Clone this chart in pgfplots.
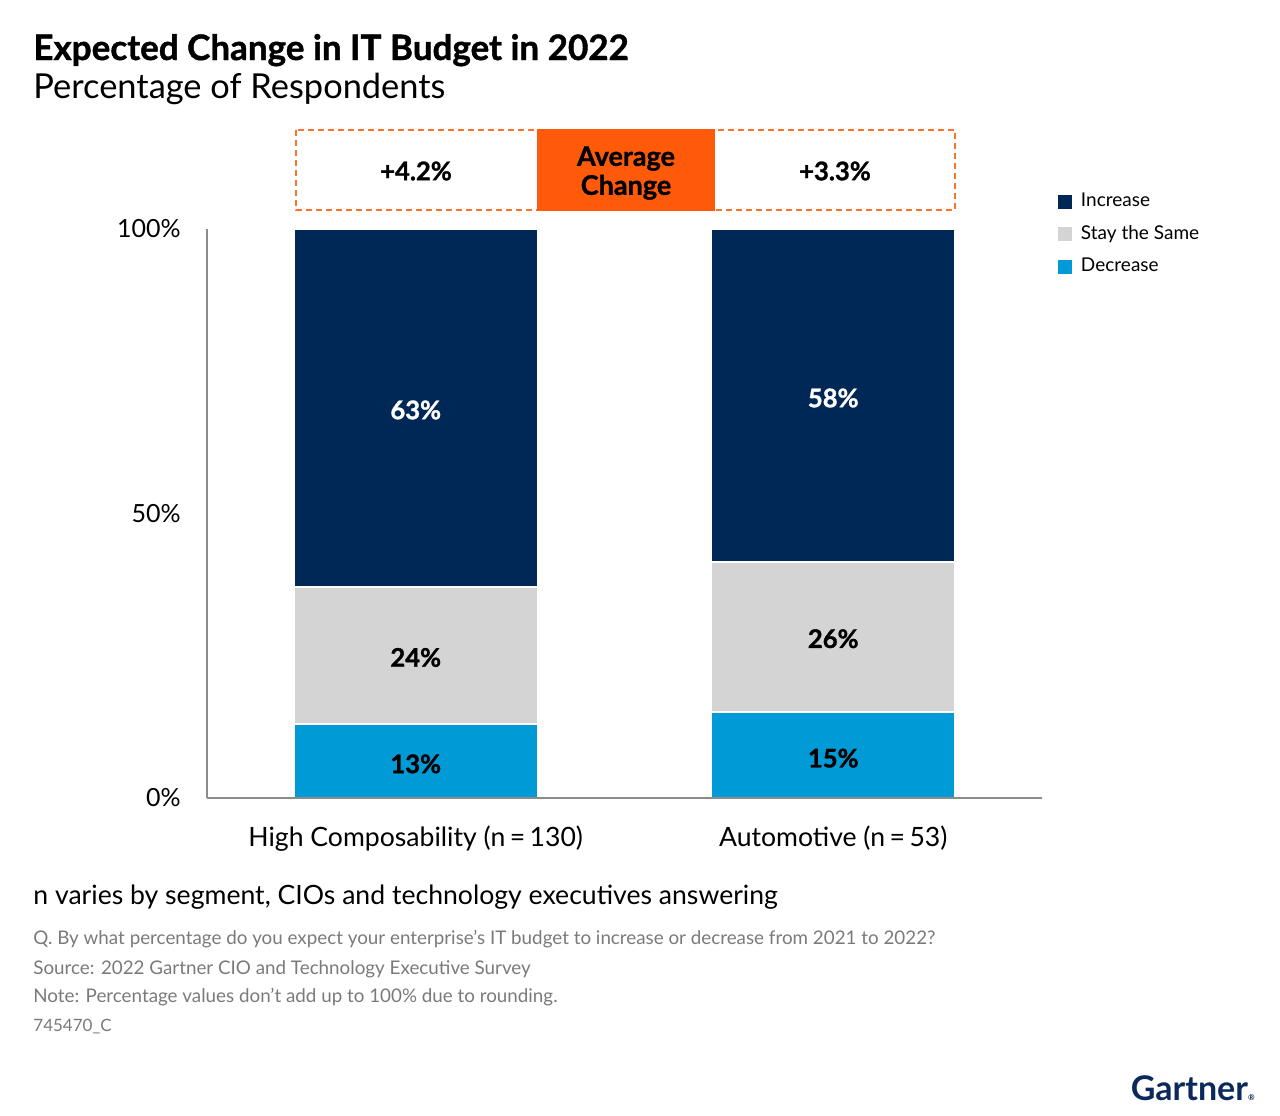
\documentclass[border=0pt]{standalone}
\usepackage{pgfplots}
\pgfplotsset{compat=1.18}
\usepackage{fontspec}
\setmainfont{Lato}
\newfontfamily\heavy{Lato}[BoldFeatures={FakeBold=1.2}]
\definecolor{incr}{HTML}{002856}
\definecolor{stay}{HTML}{D4D4D4}
\definecolor{decr}{HTML}{009AD7}
\definecolor{gorange}{HTML}{FF5A0A}
\definecolor{gnavy}{HTML}{0B2A5B}
\definecolor{axgray}{HTML}{8C8C8C}
\definecolor{notegray}{HTML}{7A7A7A}
\begin{document}
\begin{tikzpicture}
\useasboundingbox (0,0) rectangle (640pt,-557.5pt);
\begin{axis}[
  at={(103.5pt,-399pt)}, anchor=south west,
  scale only axis, width=417.5pt, height=284.5pt,
  ybar stacked, bar width=122pt,
  xmin=-0.5, xmax=1.5, ymin=0, ymax=100,
  axis x line*=bottom, axis y line*=left,
  axis line style={axgray, line width=0.8pt},
  axis on top,
  xtick={0,1}, xticklabels={High Composability (n\,=\,130), Automotive (n\,=\,53)},
  ytick={0,50,100}, yticklabels={0\%,50\%,100\%},
  major tick length=0pt,
  tick label style={text=black},
  yticklabel style={inner sep=0pt, xshift=-13pt, font=\fontsize{12.5}{15}\selectfont},
  xticklabel style={inner sep=0pt, yshift=-13.8pt, anchor=north, font=\fontsize{13.3}{16}\selectfont},
  clip=false,
  reverse legend,
  legend style={at={(1.011,1.0715)}, anchor=north west, draw=none, fill=none,
    font=\fontsize{9.5}{11}\selectfont, row sep=7.25pt,
    nodes={inner sep=0pt, text height=7pt, text depth=2pt},
    /tikz/every odd column/.style={column sep=4.5pt}},
  legend cell align=left,
  legend image code/.code={\fill[#1,draw=none] (0pt,-3.6pt) rectangle (7.2pt,3.6pt);},
  every axis plot/.append style={draw=white, line width=1pt},
]
\addplot[fill=decr] coordinates {(0,13) (1,15.1)};
\addplot[fill=stay] coordinates {(0,24) (1,26.4)};
\addplot[fill=incr] coordinates {(0,63) (1,58.5)};
\legend{Decrease, Stay the Same, Increase}
\coordinate (a1) at (axis cs:0,6.0);
\coordinate (a2) at (axis cs:0,24.7);
\coordinate (a3) at (axis cs:0,68.2);
\coordinate (b1) at (axis cs:1,7.0);
\coordinate (b2) at (axis cs:1,28.0);
\coordinate (b3) at (axis cs:1,70.3);
\end{axis}
\begin{scope}[every node/.style={font=\fontsize{12.8}{15}\selectfont\heavy\bfseries}]
\node[text=black] at (a1) {13\%};
\node[text=black] at (a2) {24\%};
\node[text=white] at (a3) {63\%};
\node[text=black] at (b1) {15\%};
\node[text=black] at (b2) {26\%};
\node[text=white] at (b3) {58\%};
\end{scope}
% average change box
\draw[gorange!85, dash pattern=on 3pt off 2pt, line width=0.75pt] (148pt,-65pt) rectangle (477.5pt,-105pt);
\fill[gorange] (268.5pt,-64.5pt) rectangle (357.5pt,-105.5pt);
\node[font=\fontsize{13.5}{14.5}\selectfont\heavy\bfseries, align=center, inner sep=0pt] at (313pt,-86.5pt) {Average\\Change};
\node[font=\fontsize{12.8}{15}\selectfont\heavy\bfseries, inner sep=0pt] at (208pt,-85.5pt) {+4.2\%};
\node[font=\fontsize{12.8}{15}\selectfont\heavy\bfseries, inner sep=0pt] at (417.5pt,-85.5pt) {+3.3\%};
% titles
\node[anchor=base west, inner sep=0pt, font=\fontsize{17.5}{20}\selectfont\heavy\bfseries] at (16.5pt,-30pt) {Expected Change in IT Budget in 2022};
\node[anchor=base west, inner sep=0pt, font=\fontsize{17.2}{19}\selectfont] at (16.5pt,-49pt) {Percentage of Respondents};
% footer
\node[anchor=base west, inner sep=0pt, font=\fontsize{13.3}{15}\selectfont] at (16.5pt,-452pt) {n varies by segment, CIOs and technology executives answering};
\node[anchor=base west, inner sep=0pt, font=\fontsize{9.4}{11}\selectfont, text=notegray] at (16.5pt,-472pt) {Q. By what percentage do you expect your enterprise’s IT budget to increase or decrease from 2021 to 2022?};
\node[anchor=base west, inner sep=0pt, font=\fontsize{9.4}{11}\selectfont, text=notegray] at (16.5pt,-487pt) {Source: 2022 Gartner CIO and Technology Executive Survey};
\node[anchor=base west, inner sep=0pt, font=\fontsize{9.4}{11}\selectfont, text=notegray] at (16.5pt,-501pt) {Note: Percentage values don’t add up to 100\% due to rounding.};
\node[anchor=base west, inner sep=0pt, font=\fontsize{8.5}{10}\selectfont, text=notegray] at (16.5pt,-515.5pt) {745470\_C};
\node[anchor=base east, inner sep=0pt, font=\fontsize{17}{20}\selectfont\bfseries, text=gnavy] at (627.5pt,-550pt) {Gartner{\fontsize{4}{4}\selectfont ®}};
\end{tikzpicture}
\end{document}
